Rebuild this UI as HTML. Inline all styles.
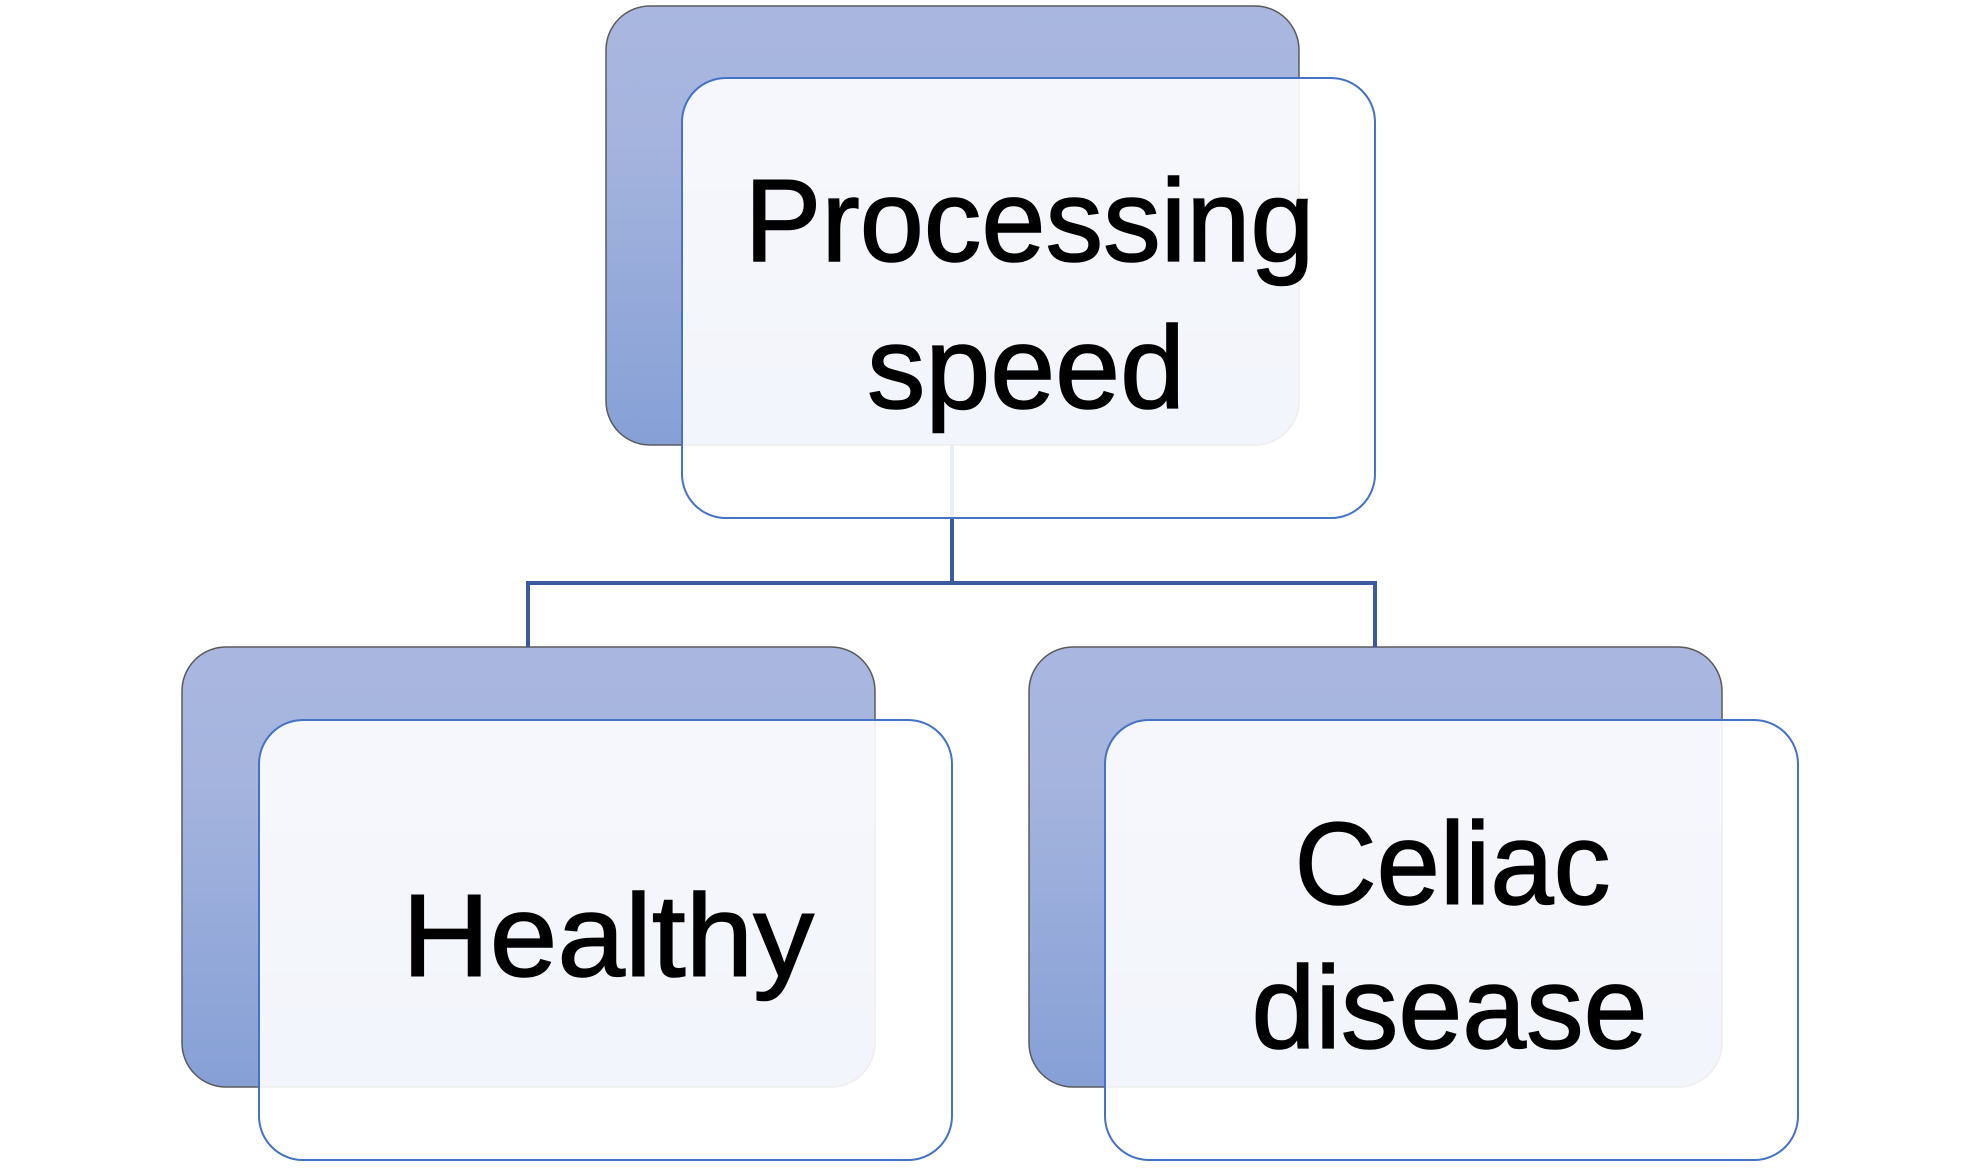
<!DOCTYPE html>
<html>
<head>
<meta charset="utf-8">
<style>
  html, body { margin: 0; padding: 0; background: #ffffff; }
  svg { display: block; }
  text { font-family: "Liberation Sans", Arial, sans-serif; font-size: 117px; fill: #000; stroke: #000; stroke-width: 1.5px; }
</style>
</head>
<body>
<svg width="1980" height="1173" viewBox="0 0 1980 1173" xmlns="http://www.w3.org/2000/svg">
  <defs>
    <linearGradient id="bg1" x1="0" y1="0" x2="0" y2="1">
      <stop offset="0" stop-color="#A9B7E0"/>
      <stop offset="0.3" stop-color="#A5B4DE"/>
      <stop offset="1" stop-color="#86A0D6"/>
    </linearGradient>
  </defs>

  <!-- back boxes -->
  <rect x="606" y="6" width="693" height="439" rx="44" ry="44" fill="url(#bg1)" stroke="#5a5a5a" stroke-width="1.5"/>
  <rect x="182" y="647" width="693" height="440" rx="44" ry="44" fill="url(#bg1)" stroke="#5a5a5a" stroke-width="1.5"/>
  <rect x="1029" y="647" width="693" height="440" rx="44" ry="44" fill="url(#bg1)" stroke="#5a5a5a" stroke-width="1.5"/>

  <!-- connectors -->
  <g stroke="#3A5BA0" stroke-width="4" fill="none">
    <line x1="952" y1="445" x2="952" y2="583"/>
    <polyline points="528,647 528,583 1375,583 1375,647"/>
  </g>

  <!-- front boxes -->
  <rect x="682" y="78" width="693" height="440" rx="44" ry="44" fill="#ffffff" fill-opacity="0.89" stroke="#4472C4" stroke-width="2"/>
  <rect x="259" y="720" width="693" height="440" rx="44" ry="44" fill="#ffffff" fill-opacity="0.89" stroke="#4472C4" stroke-width="2"/>
  <rect x="1105" y="720" width="693" height="440" rx="44" ry="44" fill="#ffffff" fill-opacity="0.89" stroke="#4472C4" stroke-width="2"/>

  <!-- labels -->
  <text x="1029.5" y="261" text-anchor="middle" textLength="570" lengthAdjust="spacingAndGlyphs">Processing</text>
  <text x="1026" y="408" text-anchor="middle" textLength="318" lengthAdjust="spacingAndGlyphs">speed</text>
  <text x="608" y="976" text-anchor="middle" textLength="412" lengthAdjust="spacingAndGlyphs">Healthy</text>
  <text x="1452.5" y="904" text-anchor="middle" textLength="316" lengthAdjust="spacingAndGlyphs">Celiac</text>
  <text x="1449.5" y="1048" text-anchor="middle" textLength="396" lengthAdjust="spacingAndGlyphs">disease</text>
</svg>
</body>
</html>
